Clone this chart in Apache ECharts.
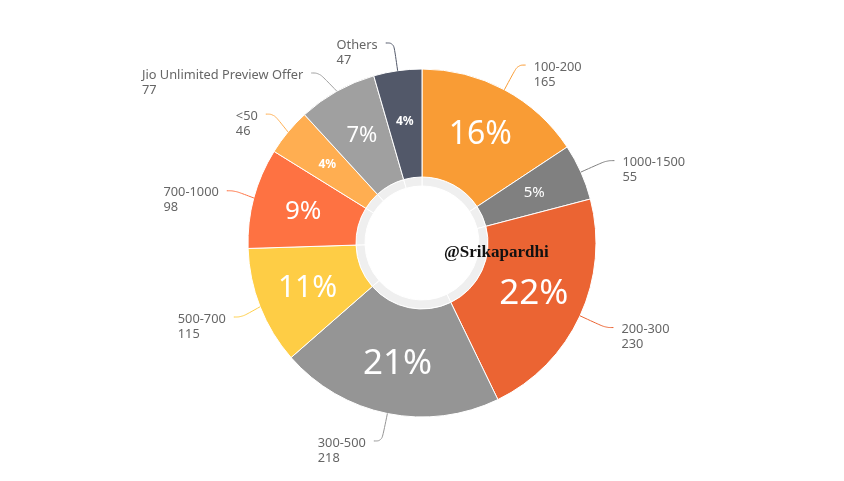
<!DOCTYPE html>
<html>
<head>
<meta charset="utf-8">
<script src="https://cdn.jsdelivr.net/npm/echarts@6/dist/echarts.min.js"></script>
<style>html,body{margin:0;padding:0;background:#fff}#c{width:844px;height:481px}</style>
</head>
<body>
<div id="c"></div>
<script>
const categories = ['100-200', '1000-1500', '200-300', '300-500', '500-700', '700-1000', '<50', 'Jio Unlimited Preview Offer', 'Others'];
const values = [165, 55, 230, 218, 115, 98, 46, 77, 47];
const colors = ['#F99C35', '#808080', '#EB6433', '#959595', '#FECD45', '#FE7242', '#FFAE51', '#A0A0A0', '#525869'];
const watermark = '@Srikapardhi';

const total = values.reduce((a, b) => a + b, 0);
function pctSize(p) {
  if (p >= 20) return 35;
  if (p >= 15) return 32;
  if (p >= 11) return 30;
  if (p >= 9) return 26;
  if (p >= 7) return 22;
  if (p >= 5) return 15;
  return 12;
}
const mainData = categories.map((n, i) => {
  const p = Math.round(values[i] / total * 100);
  return {
    name: n, value: values[i],
    itemStyle: { color: colors[i] },
    label: { fontSize: pctSize(p), fontWeight: p <= 4 ? 'bold' : 'normal' }
  };
});
const outerData = categories.map((n, i) => ({
  name: n, value: values[i],
  labelLine: { lineStyle: { color: colors[i] } }
}));
const ringData = categories.map((n, i) => ({ name: n, value: values[i] }));

const chart = echarts.init(document.getElementById('c'));
chart.setOption({
  animation: false,
  title: {
    text: watermark, left: 439, top: 239,
    textStyle: { fontFamily: 'Liberation Serif', fontWeight: 'bold', fontSize: 17, color: '#111' }
  },
  series: [
    {
      type: 'pie', center: [422, 243], radius: [66, 174], startAngle: 90, clockwise: true,
      silent: true,
      itemStyle: { borderColor: '#fff', borderWidth: 1 },
      label: {
        position: 'inside', color: '#fff', fontFamily: 'Noto Sans',
        formatter: p => Math.round(p.value / total * 100) + '%'
      },
      labelLine: { show: false },
      data: mainData, z: 2
    },
    {
      type: 'pie', center: [422, 243], radius: [66, 174], startAngle: 90, clockwise: true,
      silent: true,
      itemStyle: { color: 'rgba(0,0,0,0)' },
      label: {
        position: 'outside', distanceToLabelLine: 8,
        formatter: p => '{n|' + p.name + '}\n{n|' + p.value + '}',
        padding: [19, 0, 0, 0],
        rich: { n: { align: 'left', color: '#666', fontSize: 12.8, lineHeight: 15, fontFamily: 'Noto Sans' } }
      },
      labelLine: { show: true, length: 28, length2: 8, smooth: 0.4, lineStyle: { width: 1 } },
      data: outerData, z: 3
    },
    {
      type: 'pie', center: [422, 243], radius: [57, 66], startAngle: 90, clockwise: true,
      silent: true,
      itemStyle: { color: '#EFEFEF', borderColor: '#fff', borderWidth: 1 },
      label: { show: false }, labelLine: { show: false },
      data: ringData, z: 1
    }
  ]
});
</script>
</body>
</html>
